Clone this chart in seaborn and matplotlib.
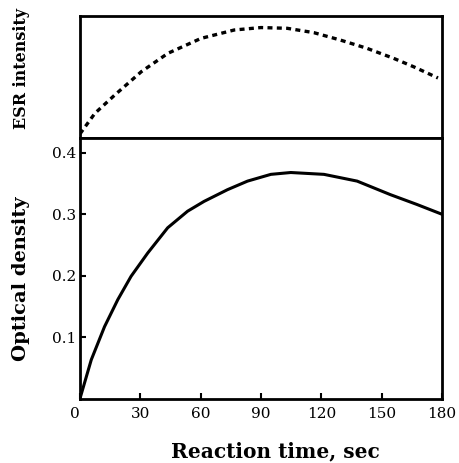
import matplotlib
matplotlib.use("Agg")
import matplotlib.pyplot as plt
import seaborn as sns
import pandas as pd

# ESR intensity (arbitrary units, top panel)
esr_time = [0, 7.4, 17.3, 30.5, 43.7, 60.2, 76.7, 90, 103, 116.3, 129.5, 142.7, 155.9, 165.8, 178]
esr_int = [0.03, 0.199, 0.350, 0.542, 0.693, 0.816, 0.885, 0.905, 0.899, 0.863, 0.802, 0.734, 0.652, 0.583, 0.49]

# Optical density (bottom panel)
od_time = [0, 5.6, 12.2, 18.8, 25.4, 33.7, 43.6, 53.5, 61.7, 73.3, 83.3, 94.9, 104.8, 121.3, 137.8, 154.3, 167.5, 180]
od_val = [0.0, 0.063, 0.117, 0.161, 0.199, 0.237, 0.278, 0.305, 0.321, 0.340, 0.354, 0.365, 0.368, 0.365, 0.354, 0.332, 0.316, 0.300]

x_ticks = [0, 30, 60, 90, 120, 150, 180]
y_ticks = [0.1, 0.2, 0.3, 0.4]
y_tick_labels = ["0.1", "0.2", "0.3", "0.4"]

sns.set_style("ticks")
plt.rcParams["font.family"] = ["DejaVu Serif"]
plt.rcParams["text.color"] = "black"
plt.rcParams["axes.labelcolor"] = "black"

fig = plt.figure(figsize=(4.6, 4.63), dpi=100)
ax_top = fig.add_axes([0.1739, 0.703, 0.787, 0.2624])
ax_bot = fig.add_axes([0.1739, 0.1393, 0.787, 0.5637])

esr_df = pd.DataFrame({"t": esr_time, "v": esr_int})
od_df = pd.DataFrame({"t": od_time, "v": od_val})

sns.lineplot(data=esr_df, x="t", y="v", ax=ax_top, color="black", linewidth=2.4)
ax_top.lines[0].set_dashes([1.5, 1.3])
sns.lineplot(data=od_df, x="t", y="v", ax=ax_bot, color="black", linewidth=2.2)

for ax in (ax_top, ax_bot):
    ax.set_xlim(0, 180)
    for s in ax.spines.values():
        s.set_visible(True)
        s.set_linewidth(2.0)
        s.set_color("black")
    ax.set_xlabel("")
    ax.set_ylabel("")

ax_top.set_ylim(0, 1)
ax_top.set_xticks([])
ax_top.set_yticks([])
ax_top.set_ylabel("ESR intensity", fontsize=11.5, fontweight="bold", color="black")
ax_top.yaxis.set_label_coords(-0.138, 0.57)

ax_bot.set_ylim(0, 0.425)
ax_bot.set_xticks(x_ticks)
ax_bot.set_xticklabels([str(v) for v in x_ticks])
ax_bot.set_yticks(y_ticks)
ax_bot.set_yticklabels(y_tick_labels)
ax_bot.tick_params(axis="both", direction="in", length=4, width=1.5, labelsize=11,
                   colors="black", labelcolor="black")
ax_bot.tick_params(axis="x", pad=6)
ax_bot.tick_params(axis="y", pad=3)
lbl0 = ax_bot.get_xticklabels()[0]
lbl0.set_horizontalalignment("right")
ax_bot.set_xlabel("Reaction time, sec", fontsize=14.5, fontweight="bold", color="black")
ax_bot.xaxis.set_label_coords(0.539, -0.163)
ax_bot.set_ylabel("Optical density", fontsize=14, fontweight="bold", color="black")
ax_bot.yaxis.set_label_coords(-0.138, 0.46)

fig.savefig("out.png", dpi=100)
